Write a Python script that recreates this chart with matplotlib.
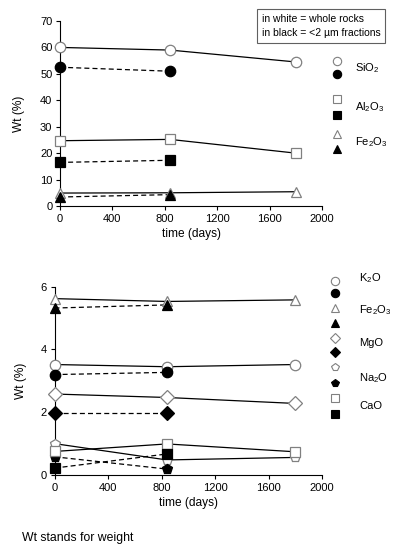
import numpy as np
import matplotlib.pyplot as plt

plt.rcParams['font.family'] = ['Liberation Sans', 'DejaVu Sans']
plt.rcParams['mathtext.fontset'] = 'custom'
plt.rcParams['mathtext.rm'] = 'Liberation Sans'
plt.rcParams['mathtext.default'] = 'regular'
plt.rcParams['font.size'] = 8

# top panel: major oxides (whole rocks at 3 times, <2 um fractions at 2 times)
t_whole = [0, 840, 1800]
t_frac = [0, 840]
sio2_whole = [60.0, 59.0, 54.5]
sio2_frac = [52.5, 51.0]
al2o3_whole = [24.7, 25.2, 20.0]
al2o3_frac = [16.5, 17.3]
fe2o3_whole = [4.9, 5.0, 5.4]
fe2o3_frac = [3.4, 4.3]

# bottom panel: minor oxides
fe2o3_whole_b = [5.62, 5.53, 5.58]
fe2o3_frac_b = [5.32, 5.42]
k2o_whole = [3.52, 3.45, 3.52]
k2o_frac = [3.2, 3.27]
mgo_whole = [2.58, 2.47, 2.28]
mgo_frac = [1.96, 1.96]
na2o_whole = [1.0, 0.48, 0.56]
na2o_frac = [0.58, 0.19]
cao_whole = [0.75, 0.99, 0.74]
cao_frac = [0.22, 0.67]

edge = '#808080'
ms = 7.5

fig = plt.figure(figsize=(3.99, 5.5), dpi=100)
ax1 = fig.add_axes([60 / 399, 1 - 206 / 550, 262 / 399, 185 / 550])
ax2 = fig.add_axes([54.5 / 399, 1 - 475 / 550, 267.5 / 399, 188.3 / 550])


def series(ax, tw, yw, tf, yf, m):
    ax.plot(tw, yw, color='black', lw=0.9, zorder=1)
    ax.plot(tf, yf, color='black', lw=0.9, ls=(0, (4, 2.5)), zorder=1)
    ax.plot(tw, yw, ls='none', marker=m, ms=ms, mfc='white', mec=edge, mew=0.9, zorder=3, clip_on=False)
    ax.plot(tf, yf, ls='none', marker=m, ms=ms, mfc='black', mec='black', mew=0.9, zorder=3, clip_on=False)


series(ax1, t_whole, sio2_whole, t_frac, sio2_frac, 'o')
series(ax1, t_whole, al2o3_whole, t_frac, al2o3_frac, 's')
series(ax1, t_whole, fe2o3_whole, t_frac, fe2o3_frac, '^')

series(ax2, t_whole, fe2o3_whole_b, t_frac, fe2o3_frac_b, '^')
series(ax2, t_whole, k2o_whole, t_frac, k2o_frac, 'o')
series(ax2, t_whole, mgo_whole, t_frac, mgo_frac, 'D')
series(ax2, t_whole, na2o_whole, t_frac, na2o_frac, 'p')
series(ax2, t_whole, cao_whole, t_frac, cao_frac, 's')

for ax in (ax1, ax2):
    ax.spines['top'].set_visible(False)
    ax.spines['right'].set_visible(False)
    ax.spines['left'].set_linewidth(0.8)
    ax.spines['bottom'].set_linewidth(0.8)
    ax.set_xlim(0, 2000)
    ax.set_xticks([0, 400, 800, 1200, 1600, 2000])
    ax.tick_params(length=3, width=0.8, pad=2.5)
    ax.set_xlabel('time (days)', labelpad=3, fontsize=8.6)
    ax.set_ylabel('Wt (%)', labelpad=11, fontsize=8.6)

ax1.set_ylim(0, 70)
ax1.set_yticks(range(0, 71, 10))
ax2.set_ylim(0, 6)
ax2.set_yticks([0, 2, 4, 6])
ax2.yaxis.labelpad = 10

fig.text(262 / 399, 1 - 14 / 550, 'in white = whole rocks\nin black = <2 \u00b5m fractions',
         ha='left', va='top', fontsize=7.5, linespacing=1.5,
         bbox=dict(boxstyle='square,pad=0.45', fc='white', ec='#606060', lw=0.8))

# marker keys at the right
def key(yw_px, yb_px, ylab_px, m, label, xm=337, xt=355, msz=6):
    fig.lines.append(plt.Line2D([xm / 399], [1 - yw_px / 550], transform=fig.transFigure, ls='none',
                                marker=m, ms=msz, mfc='white', mec=edge, mew=0.8))
    fig.lines.append(plt.Line2D([xm / 399], [1 - yb_px / 550], transform=fig.transFigure, ls='none',
                                marker=m, ms=msz, mfc='black', mec='black', mew=0.8))
    fig.text(xt / 399, 1 - ylab_px / 550, label, ha='left', va='center', fontsize=8)


key(61, 74, 68, 'o', 'SiO$_2$')
key(99, 115, 107, 's', 'Al$_2$O$_3$')
key(134, 149, 142, '^', 'Fe$_2$O$_3$')

key(281, 293, 278, 'o', 'K$_2$O', xm=335, xt=359)
key(308, 323, 310, '^', 'Fe$_2$O$_3$', xm=335, xt=359)
key(338, 352, 343, 'D', 'MgO', xm=335, xt=359, msz=5)
key(367, 383, 378, 'p', 'Na$_2$O', xm=335, xt=359)
key(398, 414, 406, 's', 'CaO', xm=335, xt=359)

fig.text(22 / 399, 1 - 538 / 550, 'Wt stands for weight', ha='left', va='center', fontsize=8.8)

fig.savefig('out.png', dpi=100)
